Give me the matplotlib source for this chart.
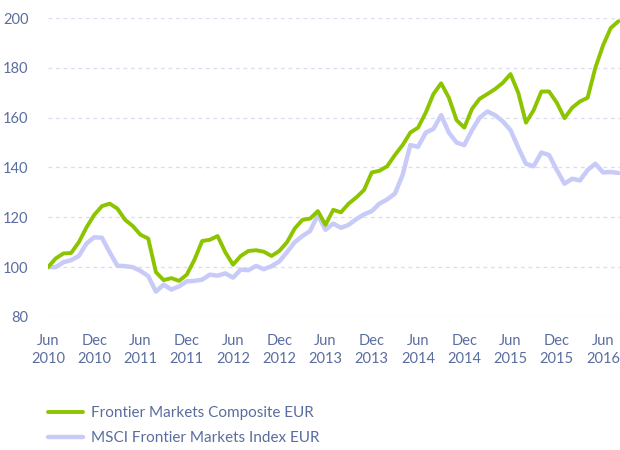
import matplotlib
matplotlib.use("Agg")
import matplotlib.pyplot as plt
import numpy as np

# Monthly index values, Jun 2010 .. Aug 2016
composite = [100, 103.5, 105.5, 105.7, 110, 116, 121, 124.5, 125.5, 123.5,
             119, 116.5, 113, 111.5, 98, 94.8, 95.6, 94.5, 97, 103,
             110.5, 111, 112.5, 106, 101, 104.5, 106.5, 106.8, 106.2, 104.5,
             106.5, 110, 115.5, 119, 119.5, 122.5, 117, 123, 122, 125.5,
             128, 131, 138, 138.7, 140.5, 145, 149, 154, 156, 162,
             169.5, 173.8, 168, 159, 156, 163.5, 167.6, 169.5, 171.5, 174,
             177.5, 170, 158, 163, 170.5, 170.5, 166, 159.8, 164, 166.5,
             168, 180, 189, 196, 198.7]
msci = [100, 100, 102, 102.8, 104.5, 109.5, 112, 111.8, 106, 100.6,
        100.4, 100, 98.5, 96.4, 90.2, 93, 91, 92.3, 94.3, 94.5,
        95, 97, 96.6, 97.5, 95.8, 99, 98.8, 100.5, 99.2, 100.4,
        102.3, 106, 110, 112.5, 114.5, 121, 115, 117.5, 115.8, 117,
        119.3, 121.2, 122.5, 125.5, 127.2, 129.5, 137, 149, 148.3, 154,
        155.5, 161, 154, 150, 149, 155, 160, 162.5, 161, 158.5,
        155, 148, 141.5, 140.5, 146, 145, 139, 133.5, 135.5, 134.8,
        139, 141.5, 138, 138.2, 137.8]
tick_labels = ["Jun\n2010", "Dec\n2010", "Jun\n2011", "Dec\n2011", "Jun\n2012",
               "Dec\n2012", "Jun\n2013", "Dec\n2013", "Jun\n2014", "Dec\n2014",
               "Jun\n2015", "Dec\n2015", "Jun\n2016"]
y_ticks = [80, 100, 120, 140, 160, 180, 200]
series_names = ["Frontier Markets Composite EUR", "MSCI Frontier Markets Index EUR"]

plt.rcParams['font.family'] = ['Lato', 'DejaVu Sans']
txt = '#5a6d9f'
green = '#8cc400'
lav = '#c8cbf8'

fig = plt.figure(figsize=(6.2, 4.5), dpi=100)
ax = fig.add_axes([48/620, 1-317/450, 1-48/620, 299/450])
months = np.arange(len(composite))
ax.plot(months, msci, color=lav, lw=3.2, solid_capstyle='round', solid_joinstyle='round',
        label=series_names[1], zorder=2)
ax.plot(months, composite, color=green, lw=2.8, solid_capstyle='round', solid_joinstyle='round',
        label=series_names[0], zorder=3)
ax.set_xlim(0, 74.2)
ax.set_ylim(80, 200)
ax.set_yticks(y_ticks)
ax.set_xticks(np.arange(0, 73, 6))
ax.set_xticklabels(tick_labels, linespacing=1.35)
for s in ax.spines.values():
    s.set_visible(False)
ax.tick_params(axis='both', length=0, colors=txt, labelsize=10.5)
ax.tick_params(axis='y', pad=14)
ax.tick_params(axis='x', pad=12)
ax.grid(axis='y', color='#d8def0', lw=0.9, ls=(0, (3, 3)))
ax.set_axisbelow(True)

h, l = ax.get_legend_handles_labels()
leg = fig.legend(h[::-1], l[::-1], loc='upper left', bbox_to_anchor=(48/620, 1-406/450),
                 frameon=False, fontsize=11, handlelength=2.3, handletextpad=0.5,
                 labelspacing=0.75, borderpad=0, borderaxespad=0)
for t in leg.get_texts():
    t.set_color(txt)

fig.savefig('out.png', dpi=100)
